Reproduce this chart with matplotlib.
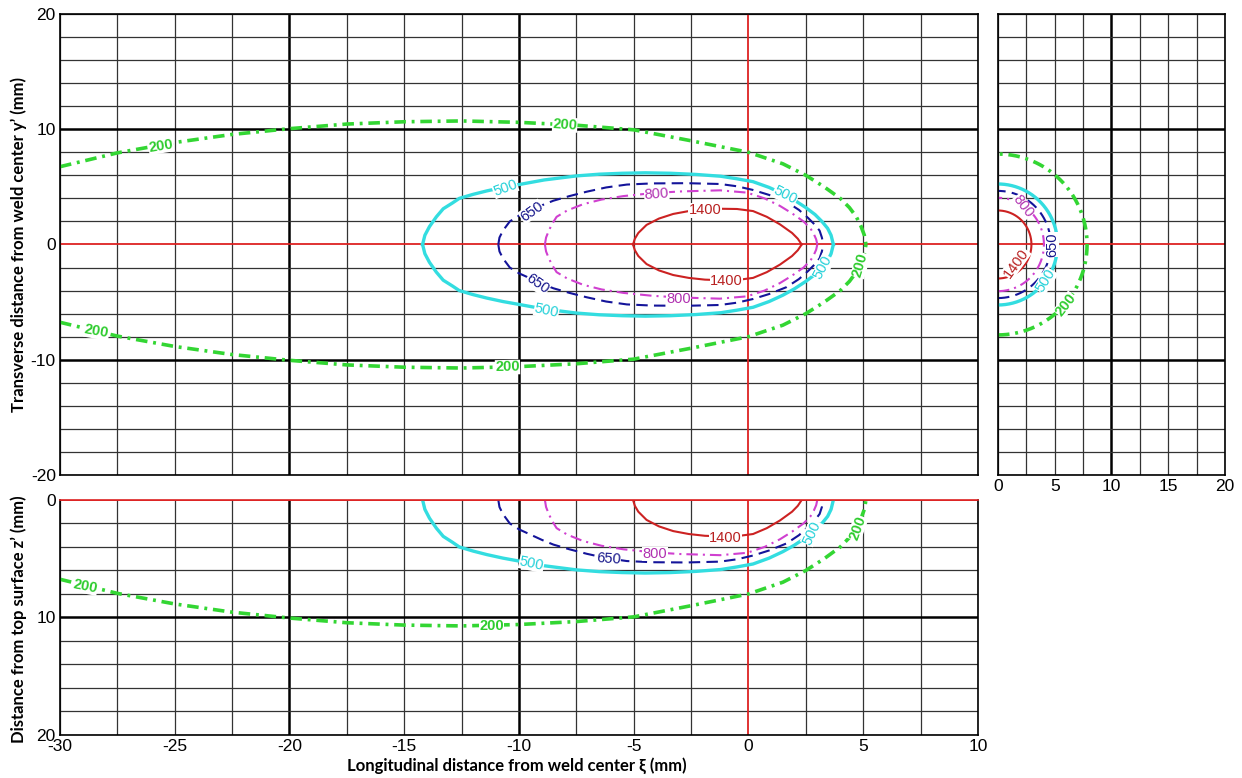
import numpy as np
import matplotlib.pyplot as plt

# upper half of each isotherm (x = xi, y = y' in mm)
t200_x = [-30, -27.5, -25, -22.5, -20, -17.5, -15, -12.5, -10, -7.5, -5, -2.5, 0, 1.5, 2.5, 3.3, 4.0, 4.4, 4.7, 4.9, 5.05, 5.12]
t200_y = [6.75, 7.95, 8.85, 9.55, 10.05, 10.45, 10.65, 10.72, 10.6, 10.35, 9.95, 9.0, 8.0, 7.0, 6.0, 5.0, 4.0, 3.2, 2.4, 1.6, 0.8, 0]

t500_x = [-14.2, -14.1, -13.9, -13.6, -13.3, -12.9, -12.6, -12.0, -11.4, -10.7, -10.0, -8.9, -7.5, -6.5, -5.5,
          -4.5, -3.4, -2.3, -1.2, -0.5, 0.2, 0.9, 1.5, 2.0, 2.5, 2.9, 3.2, 3.45, 3.6, 3.7]
t500_y = [0, 0.8, 1.55, 2.4, 3.1, 3.6, 4.0, 4.35, 4.65, 4.95, 5.2, 5.6, 5.95, 6.1, 6.18,
          6.22, 6.18, 6.08, 5.92, 5.7, 5.45, 4.95, 4.4, 3.85, 3.2, 2.6, 2.0, 1.4, 0.8, 0]

t650_x = [-10.9, -10.85, -10.7, -10.4, -10.0, -9.5, -9.0, -8.5, -7.8, -7.05, -6.2, -5.3, -4.2, -2.7, -1.24,
          -0.5, 0.2, 0.9, 1.66, 2.2, 2.6, 2.9, 3.1, 3.2, 3.26]
t650_y = [0, 0.6, 1.2, 2.0, 2.5, 2.95, 3.4, 3.8, 4.2, 4.58, 4.95, 5.2, 5.3, 5.32, 5.25,
          5.05, 4.73, 4.3, 3.7, 3.0, 2.3, 1.7, 1.2, 0.6, 0]

t800_x = [-8.87, -8.82, -8.7, -8.55, -8.36, -7.9, -7.2, -6.4, -5.45, -4.2, -3.0, -1.24, -0.06, 0.7,
          1.37, 1.9, 2.4, 2.7, 2.85, 2.95, 3.0]
t800_y = [0, 0.6, 1.2, 1.8, 2.4, 2.95, 3.5, 3.9, 4.2, 4.45, 4.6, 4.7, 4.5, 4.0,
          3.35, 2.7, 2.0, 1.4, 0.9, 0.45, 0]

t1400_x = [-5.03, -4.95, -4.8, -4.44, -3.9, -3.28, -2.6, -1.9, -1.2, -0.5, 0.2, 0.8, 1.37, 1.9, 2.15, 2.32]
t1400_y = [0, 0.5, 1.0, 1.7, 2.25, 2.65, 2.9, 3.05, 3.1, 3.08, 2.9, 2.4, 1.75, 1.0, 0.5, 0]

# radius of each isotherm in the cross section (right panel)
levels = [200, 500, 650, 800, 1400]
radius = [7.85, 5.25, 4.65, 4.05, 2.95]

colors = ['#33d633', '#33dde0', '#14149a', '#d040d0', '#cc2222']
widths = [2.6, 2.4, 1.5, 1.5, 1.5]
styles = [(0, (3.2, 1.6, 0.8, 1.6)), '-', (0, (5.5, 3)), (0, (5.5, 2.4, 1, 2.4)), '-']
lab_colors = ['#2ecc2e', '#22d0d8', '#14148a', '#b030b0', '#b82020']

curves = [(t200_x, t200_y), (t500_x, t500_y), (t650_x, t650_y), (t800_x, t800_y), (t1400_x, t1400_y)]

# label positions (x, y, rotation) per level
labels_top = {
    200: [(-25.6, 8.55, 9), (-8.0, 10.4, -4), (4.88, -1.8, 74), (-28.4, -7.55, -10), (-10.5, -10.65, 1)],
    500: [(-10.6, 4.9, 20), (1.6, 4.25, -27), (3.25, -2.0, 62), (-8.8, -5.75, -12)],
    650: [(-9.45, 2.85, 35), (-9.2, -3.45, -35)],
    800: [(-4.0, 4.35, 4), (-3.05, -4.75, 0)],
    1400: [(-1.9, 2.95, 0), (-0.95, -3.15, 0)],
}
labels_bot = {
    200: [(-28.9, 7.35, -11), (-11.2, 10.75, 0), (4.75, 2.4, 70)],
    500: [(-9.45, 5.4, -12), (2.75, 2.8, 65)],
    650: [(-6.1, 5.0, -4)],
    800: [(-4.07, 4.6, 0)],
    1400: [(-1.0, 3.2, 0)],
}
labels_side = {
    200: [(6.0, -5.25, 52)],
    500: [(4.2, -3.15, 58)],
    650: [(4.75, 0.0, 90)],
    800: [(2.2, 3.3, -52)],
    1400: [(1.6, -1.6, 54)],
}

plt.rcParams['font.family'] = ['Liberation Sans', 'DejaVu Sans']
plt.rcParams['axes.unicode_minus'] = False

fig = plt.figure(figsize=(12.42, 7.78), dpi=100)
ax_top = fig.add_axes([0.0483, 0.3895, 0.7391, 0.5925])
ax_side = fig.add_axes([0.8035, 0.3895, 0.1828, 0.5925])
ax_bot = fig.add_axes([0.0483, 0.0553, 0.7391, 0.3021])

red = '#dd2222'


def draw_grid(ax, xs, ys, xmaj, ymaj, xred, yred):
    for v in xs:
        if v in xred:
            ax.axvline(v, color=red, lw=1.3, zorder=1.5)
        elif v in xmaj:
            ax.axvline(v, color='black', lw=1.8, zorder=1)
        else:
            ax.axvline(v, color='#333333', lw=0.9, zorder=1)
    for v in ys:
        if v in yred:
            ax.axhline(v, color=red, lw=1.3, zorder=1.5)
        elif v in ymaj:
            ax.axhline(v, color='black', lw=1.8, zorder=1)
        else:
            ax.axhline(v, color='#333333', lw=0.9, zorder=1)


def put_labels(ax, lab):
    for i, lev in enumerate(levels):
        for (x, y, r) in lab.get(lev, []):
            ax.text(x, y, str(lev), color=lab_colors[i], fontsize=10.5, rotation=r,
                    rotation_mode='anchor', ha='center', va='center', zorder=4,
                    fontweight='bold' if lev == 200 else 'normal',
                    bbox=dict(facecolor='white', edgecolor='none', pad=0.2))


# top view
draw_grid(ax_top, np.arange(-30, 10.1, 2.5), np.arange(-20, 20.1, 2), [-20, -10], [-10, 10], [0], [0])
for i, (cx, cy) in enumerate(curves):
    ax_top.plot(cx, cy, color=colors[i], lw=widths[i], ls=styles[i], zorder=3)
    ax_top.plot(cx, -np.array(cy), color=colors[i], lw=widths[i], ls=styles[i], zorder=3)
put_labels(ax_top, labels_top)
ax_top.set_xlim(-30, 10)
ax_top.set_ylim(-20, 20)
ax_top.set_yticks([-20, -10, 0, 10, 20])
ax_top.set_xticks([])

# cross section
draw_grid(ax_side, np.arange(0, 20.1, 2.5), np.arange(-20, 20.1, 2), [10], [-10, 10], [], [0])
th = np.linspace(-np.pi / 2, np.pi / 2, 200)
for i, r in enumerate(radius):
    ax_side.plot(r * np.cos(th), r * np.sin(th), color=colors[i], lw=widths[i], ls=styles[i], zorder=3)
put_labels(ax_side, labels_side)
ax_side.set_xlim(0, 20)
ax_side.set_ylim(-20, 20)
ax_side.set_xticks([0, 5, 10, 15, 20])
ax_side.set_yticks([])

# side view (depth)
draw_grid(ax_bot, np.arange(-30, 10.1, 2.5), np.arange(0, 20.1, 2), [-20, -10], [10], [0], [0])
for i, (cx, cy) in enumerate(curves):
    ax_bot.plot(cx, cy, color=colors[i], lw=widths[i], ls=styles[i], zorder=3)
put_labels(ax_bot, labels_bot)
ax_bot.set_xlim(-30, 10)
ax_bot.set_ylim(20, 0)
ax_bot.set_yticks([0, 10, 20])
ax_bot.set_xticks([-30, -25, -20, -15, -10, -5, 0, 5, 10])

for ax in (ax_top, ax_side, ax_bot):
    ax.tick_params(length=0, labelsize=12.5, pad=3)
    for s in ax.spines.values():
        s.set_linewidth(1.2)
        s.set_zorder(5)
ax_bot.spines['top'].set_color(red)

lab_font = ['Lato', 'DejaVu Sans']
fig.text(0.015, 0.6858, "Transverse distance from weld center y\u2019 (mm)", rotation=90,
         ha='center', va='center', fontsize=12, fontweight='bold', family=lab_font)
fig.text(0.015, 0.2044, "Distance from top surface z\u2019 (mm)", rotation=90,
         ha='center', va='center', fontsize=12, fontweight='bold', family=lab_font)
fig.text(0.4163, 0.0154, "Longitudinal distance from weld center \u03be (mm)",
         ha='center', va='center', fontsize=12, fontweight='bold', family=lab_font)

fig.savefig('out.png', dpi=100, facecolor='white')
